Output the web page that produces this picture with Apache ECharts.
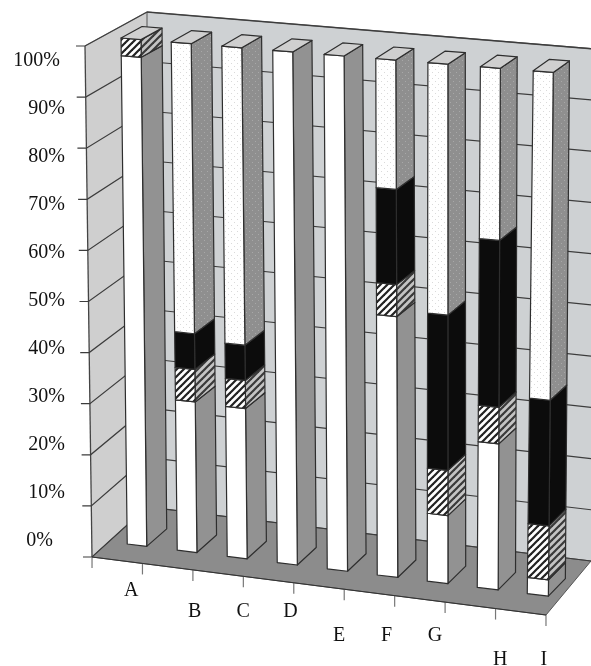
<!DOCTYPE html>
<html><head><meta charset="utf-8">
<style>html,body{margin:0;padding:0;background:#fff}#c{width:591px;height:666px}</style>
<script src="https://cdn.jsdelivr.net/npm/echarts@6/dist/echarts.min.js"></script>
</head><body><div id="c"></div>
<script>
const categories = ['A','B','C','D','E','F','G','H','I'];
const yTicks = [0,10,20,30,40,50,60,70,80,90,100];
const solidWhite = [96.5,29.6,29.4,100,100,50.4,13.1,28,3.1];
const hatched    = [3.5,6.4,5.5,0,0,6.2,8.7,7,10.3];
const solidBlack = [0,7,6.9,0,0,18.4,29.9,32,24];
const dotted     = [0,57,58.2,0,0,25,48.3,33,62.6];

// layout only
const labelShiftX = [14,27,25,22,20,17,15,30,23];
const labelDropY = [0,21.5,21.5,21.5,45.5,45.5,45.5,69.5,69.5];
const ink = '#2e2e2e';
const gridTop = 61, gridBottom = 125;

function lerp(a,b,t){return a+(b-a)*t;}
function tile(size,draw){const c=document.createElement('canvas');c.width=c.height=size;draw(c.getContext('2d'),size);return {image:c,repeat:'repeat'};}
function dots(bg,fg){return tile(6,(g)=>{g.fillStyle=bg;g.fillRect(0,0,6,6);g.fillStyle=fg;g.fillRect(0,0,1,1);g.fillRect(3,3,1,1);});}
function stripes(bg,fg){return tile(7,(g,s)=>{g.fillStyle=bg;g.fillRect(0,0,s,s);g.strokeStyle=fg;g.lineWidth=2.2;
  [[-s,s,s,-s],[0,s,s,0],[0,2*s,2*s,0]].forEach(l=>{g.beginPath();g.moveTo(l[0],l[1]);g.lineTo(l[2],l[3]);g.stroke();});});}

const styles = {
  white:{front:'#ffffff',side:'#929292'},
  hatch:{front:stripes('#ffffff','#222222'),side:stripes('#c4c4c4','#3a3a3a')},
  black:{front:'#0c0c0c',side:'#0c0c0c'},
  dots:{front:dots('#ffffff','#dadada'),side:dots('#8f8f8f','#a8a8a8')}
};

function project(api,i,v,right,depth){
  const c0=api.coord([i,0]), c100=api.coord([i,100]), c=api.coord([i,v]);
  const t=(c0[1]-c[1])/(c0[1]-c100[1]);
  const cx=c[0];
  let x=lerp(cx+10-0.44*i,cx+3.8-0.44*i+0.19*i*i,t);
  let y=lerp(544+6.2*i,38+4.1*i,t);
  const w=lerp(19.5+0.2*i,20,t);
  if(right){x+=w;y+=w*lerp(0.12,0.08,t);}
  if(depth){
    x+=lerp(20-0.375*i,21-0.6*i,t);
    y-=lerp(17.5,11.5,t);
  }
  return [x,y];
}

function segmentItem(kind){
  return function(params,api){
    const i=api.value(0), a=api.value(1), b=api.value(2);
    if(b-a<=0) return null;
    const s=styles[kind];
    const stroke={stroke:ink,lineWidth:1.2,lineJoin:'round'};
    const poly=(pts,fill)=>({type:'polygon',shape:{points:pts},style:Object.assign({fill:fill},stroke)});
    const fl=(v)=>project(api,i,v,0,0), fr=(v)=>project(api,i,v,1,0), br=(v)=>project(api,i,v,1,1), bl=(v)=>project(api,i,v,0,1);
    const kids=[
      poly([fr(a),br(a),br(b),fr(b)],s.side),
      poly([fl(a),fr(a),fr(b),fl(b)],s.front)
    ];
    if(b>=99.9) kids.push(poly([fl(b),fr(b),br(b),bl(b)],'#cfcfcf'));
    return {type:'group',children:kids};
  };
}

function shellItem(params,api){
  const y0=api.coord([0,0])[1], y100=api.coord([0,100])[1];
  const frac=(v)=>(y0-api.coord([0,v])[1])/(y0-y100);
  const frontL=(t)=>[lerp(92,85,t),lerp(557,46,t)];
  const backL=(t)=>[147,lerp(507,12,t)];
  const backR=(t)=>[591,lerp(561,48.7,t)];
  const frontPts=[[92,557],[546,615],[591,561]];
  const kids=[
    {type:'polygon',shape:{points:[backL(0),backR(0),backR(1),backL(1)]},style:{fill:'#ced1d3'}},
    {type:'polygon',shape:{points:[frontL(0),backL(0),backL(1),frontL(1)]},style:{fill:'#cfcfcf'}},
    {type:'polygon',shape:{points:[frontPts[0],backL(0),frontPts[2],frontPts[1]]},style:{fill:'#8c8c8c',stroke:'#555',lineWidth:1}},
    {type:'polyline',shape:{points:[frontL(0),frontL(1)]},style:{stroke:'#444',lineWidth:1.3,fill:null}},
    {type:'polyline',shape:{points:[frontL(1),backL(1)]},style:{stroke:'#8a8a8a',lineWidth:1.2,fill:null}},
    {type:'polyline',shape:{points:[backL(1),backR(1)]},style:{stroke:'#555',lineWidth:1.4,fill:null}},
    {type:'polyline',shape:{points:[backL(0),backL(1)]},style:{stroke:'#555',lineWidth:1,fill:null}}
  ];
  yTicks.forEach(v=>{
    const t=frac(v), f=frontL(t);
    kids.push({type:'polyline',shape:{points:[[f[0]-9,f[1]],f,backL(t),backR(t)]},style:{stroke:'#3c3c3c',lineWidth:1.2,fill:null}});
  });
  categories.concat(['']).forEach((_,k)=>{
    const x=api.coord([0,0])[0]-25.2+k*50.44;
    const y=557+(x-92)*(58/454);
    kids.push({type:'line',shape:{x1:x,y1:y,x2:x,y2:y+11},style:{stroke:'#777',lineWidth:1.2}});
  });
  kids.push({type:'polyline',shape:{points:[frontPts[0],frontPts[1]]},style:{stroke:'#333',lineWidth:1.2,fill:null}});
  return {type:'group',children:kids};
}

let base=new Array(categories.length).fill(0);
function segmentSeries(name,kind,values){
  const rows=values.map((v,i)=>{const r=[i,base[i],base[i]+v];base[i]+=v;return r;});
  return {name,type:'custom',renderItem:segmentItem(kind),data:rows,encode:{x:0,y:[1,2]},z:3,silent:true,clip:false};
}

const rich={};
categories.forEach((c,i)=>{rich['c'+i]={fontFamily:'Liberation Serif',fontSize:20,color:'#111',
  padding:[labelDropY[i],0,0,labelShiftX[i]*2]};});
rich.lab={fontFamily:'Liberation Serif',fontSize:20,color:'#111'};
rich.p5={fontFamily:'Liberation Serif',fontSize:20,color:'#111',padding:[0,5,0,0]};
rich.p12={fontFamily:'Liberation Serif',fontSize:20,color:'#111',padding:[0,12,0,0]};

const chart=echarts.init(document.getElementById('c'),null,{renderer:'canvas'});
chart.setOption({
  animation:false,
  backgroundColor:'#fff',
  grid:{left:92,right:45,top:gridTop,bottom:gridBottom,outerBoundsMode:'none'},
  xAxis:{type:'category',data:categories,axisLine:{show:false},axisTick:{show:false},splitLine:{show:false},
    axisLabel:{interval:0,hideOverlap:false,margin:39.5,rich,formatter:(v,i)=>`{c${i}|${v}}`}},
  yAxis:{type:'value',min:0,max:100,interval:10,axisLine:{show:false},axisTick:{show:false},splitLine:{show:false},
    axisLabel:{margin:27,rich,formatter:(v)=>{const k=v===0?'p12':(v===100?'p5':'lab');return `{${k}|${v}%}`;}}},
  series:[
    {name:'walls',type:'custom',renderItem:shellItem,data:[[0,0]],encode:{x:0,y:1},z:1,silent:true,clip:false},
    segmentSeries('White','white',solidWhite),
    segmentSeries('Hatched','hatch',hatched),
    segmentSeries('Black','black',solidBlack),
    segmentSeries('Dotted','dots',dotted)
  ]
});
</script></body></html>
